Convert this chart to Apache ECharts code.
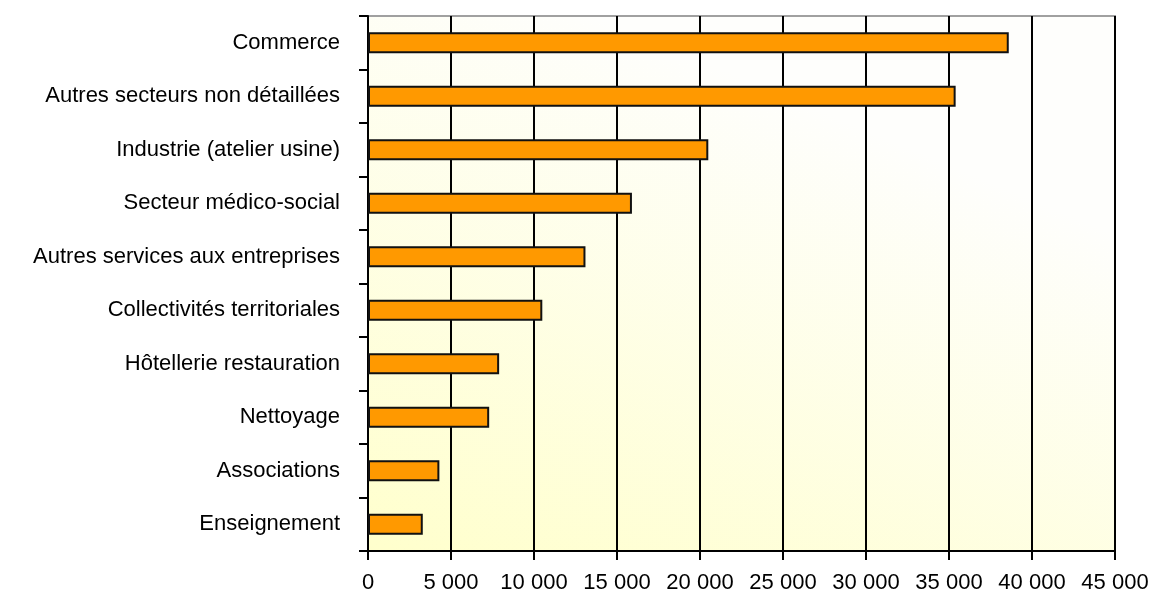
<!DOCTYPE html>
<html>
<head>
<meta charset="utf-8">
<script src="https://cdn.jsdelivr.net/npm/echarts@6/dist/echarts.min.js"></script>
<style>
  html, body { margin: 0; padding: 0; background: #ffffff; }
  #chart { width: 1153px; height: 594px; }
</style>
</head>
<body>
<div id="chart"></div>
<script>
// Sectors, listed top to bottom
const categories = [
  'Commerce',
  'Autres secteurs non détaillées',
  'Industrie (atelier usine)',
  'Secteur médico-social',
  'Autres services aux entreprises',
  'Collectivités territoriales',
  'Hôtellerie restauration',
  'Nettoyage',
  'Associations',
  'Enseignement'
];
const values = [38600, 35400, 20500, 15900, 13100, 10500, 7900, 7300, 4300, 3300];

const xMin = 0, xMax = 45000, xStep = 5000;

// Thousands separated by a space: 45 000
function fmt(v) {
  return String(v).replace(/\B(?=(\d{3})+(?!\d))/g, ' ');
}

const chart = echarts.init(document.getElementById('chart'));
chart.setOption({
  animation: false,
  grid: {
    left: 368, right: 38, top: 16, bottom: 43,
    show: true,
    borderColor: '#a0a0a0',
    borderWidth: 2,
    backgroundColor: new echarts.graphic.LinearGradient(0.3, 0, 0, 1, [
      { offset: 0, color: '#fefefc' },
      { offset: 1, color: '#ffffcc' }
    ])
  },
  xAxis: {
    type: 'value',
    min: xMin, max: xMax, interval: xStep,
    axisLine: { show: true, lineStyle: { color: '#000', width: 2 } },
    axisTick: { show: true, length: 9, lineStyle: { color: '#000', width: 2 } },
    axisLabel: {
      formatter: fmt,
      color: '#000',
      fontFamily: 'Liberation Sans, Arial, sans-serif',
      fontSize: 22,
      margin: 21
    },
    splitLine: { show: true, lineStyle: { color: '#000', width: 2 } }
  },
  yAxis: {
    type: 'category',
    data: categories,
    inverse: true,
    axisLine: { show: true, lineStyle: { color: '#000', width: 2 } },
    axisTick: { show: true, length: 9, lineStyle: { color: '#000', width: 2 } },
    axisLabel: {
      color: '#000',
      fontFamily: 'Liberation Sans, Arial, sans-serif',
      fontSize: 22,
      margin: 28
    },
    splitLine: { show: false }
  },
  series: [{
    type: 'bar',
    data: values,
    barWidth: 21,
    itemStyle: { color: '#ff9900', borderColor: '#111', borderWidth: 2 }
  }]
});
</script>
</body>
</html>
